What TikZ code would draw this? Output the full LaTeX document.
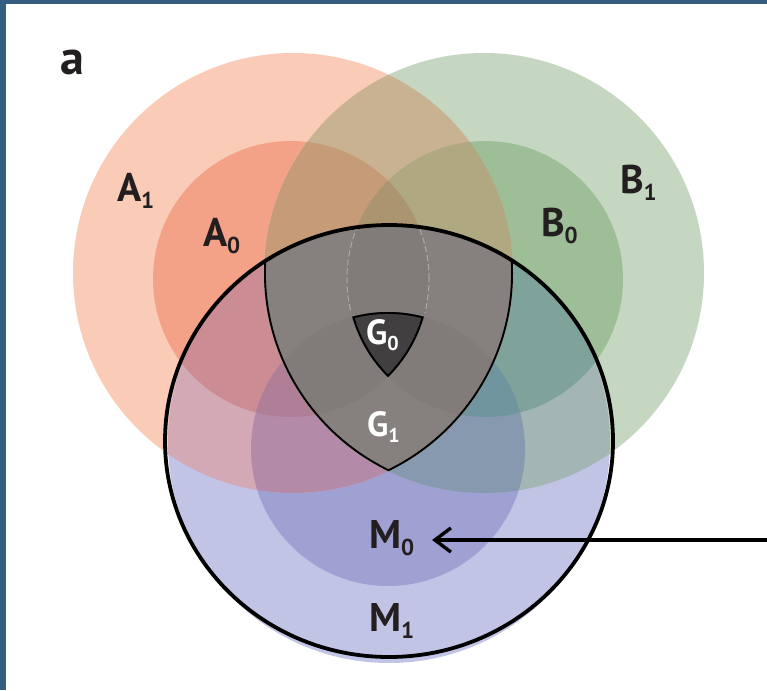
\documentclass[tikz,border=0pt]{standalone}
\usepackage{fontspec}
\setmainfont{PT Sans}
\usetikzlibrary{arrows.meta}
\definecolor{cAone}{HTML}{FACBB6}
\definecolor{cAzero}{HTML}{F4A287}
\definecolor{cBone}{HTML}{C5D7C0}
\definecolor{cBzero}{HTML}{9EBE98}
\definecolor{cMone}{HTML}{C2C4E5}
\definecolor{cMzero}{HTML}{9FA1D3}
\definecolor{AoBo}{HTML}{C9B291}
\definecolor{AzBo}{HTML}{C59B78}
\definecolor{AoBz}{HTML}{B0A880}
\definecolor{AzBz}{HTML}{AA9570}
\definecolor{AoMo}{HTML}{D4A9B6}
\definecolor{AzMo}{HTML}{CC8C93}
\definecolor{AoMz}{HTML}{B38BA9}
\definecolor{AzMz}{HTML}{AF7E97}
\definecolor{BoMo}{HTML}{A3B6B4}
\definecolor{BzMo}{HTML}{7FA39A}
\definecolor{BoMz}{HTML}{8699AE}
\definecolor{BzMz}{HTML}{71959F}
\definecolor{gfill}{HTML}{8B8683}
\definecolor{gdark}{HTML}{413F3F}
\definecolor{framecol}{HTML}{345D81}
\definecolor{ink}{HTML}{231F20}
\newcommand\lsub[1]{\raisebox{-7pt}{\fontsize{23}{23}\selectfont #1}}
\newcommand\gsub[1]{\raisebox{-6pt}{\fontsize{20}{20}\selectfont #1}}
% #1 clip path, #2 fill path, #3 colour
\newcommand\regionfill[3]{\begin{scope}\clip #1;\fill[#3] #2;\end{scope}}
\begin{document}
\begin{tikzpicture}[x=1pt,y=-1pt,
  lbl/.style={anchor=base west,inner sep=0pt,outer sep=0pt,text=ink,font=\bfseries\fontsize{40}{40}\selectfont},
  glbl/.style={anchor=base west,inner sep=0pt,outer sep=0pt,text=white,font=\bfseries\fontsize{35}{35}\selectfont},
  gedge/.style={draw=black,line width=3.8pt},
  pointer/.style={draw=black,line width=3.4pt,-{Straight Barb[length=16pt,width=24pt]}}]
\useasboundingbox (0,0) rectangle (767,690);
\fill[white] (0,0) rectangle (767,690);
\fill[framecol] (0,0) rectangle (6,690);
\fill[framecol] (0,0) rectangle (767,4);
\coordinate (cA) at (293,273);
\coordinate (cAi) at (291,279);
\coordinate (cB) at (484,273);
\coordinate (cBi) at (485,279);
\coordinate (cM) at (389,442);
\coordinate (cMi) at (388,449);
\coordinate (cE) at (389,441);
% single sets
\fill[cAone] (cA) circle[radius=220pt];
\fill[cAzero] (cAi) circle[radius=138pt];
\fill[cBone] (cB) circle[radius=220pt];
\fill[cBzero] (cBi) circle[radius=138pt];
\fill[cMone] (cM) circle[radius=221pt];
\fill[cMzero] (cMi) circle[radius=137pt];
% A with M
\regionfill{(cA) circle[radius=220pt]}{(cM) circle[radius=221pt]}{AoMo}
\regionfill{(cAi) circle[radius=138pt]}{(cM) circle[radius=221pt]}{AzMo}
\regionfill{(cA) circle[radius=220pt]}{(cMi) circle[radius=137pt]}{AoMz}
\regionfill{(cAi) circle[radius=138pt]}{(cMi) circle[radius=137pt]}{AzMz}
% B with M
\regionfill{(cB) circle[radius=220pt]}{(cM) circle[radius=221pt]}{BoMo}
\regionfill{(cBi) circle[radius=138pt]}{(cM) circle[radius=221pt]}{BzMo}
\regionfill{(cB) circle[radius=220pt]}{(cMi) circle[radius=137pt]}{BoMz}
\regionfill{(cBi) circle[radius=138pt]}{(cMi) circle[radius=137pt]}{BzMz}
% A with B
\regionfill{(cA) circle[radius=220pt]}{(cB) circle[radius=220pt]}{AoBo}
\regionfill{(cA) circle[radius=220pt]}{(cBi) circle[radius=138pt]}{AoBz}
\regionfill{(cAi) circle[radius=138pt]}{(cB) circle[radius=220pt]}{AzBo}
\regionfill{(cAi) circle[radius=138pt]}{(cBi) circle[radius=138pt]}{AzBz}
% G1 region
\begin{scope}
  \clip (cA) circle[radius=220pt];
  \clip (cB) circle[radius=220pt];
  \clip (cE) ellipse[x radius=224pt,y radius=216pt];
  \fill[gfill] (0,0) rectangle (767,690);
  \fill[black,fill opacity=0.035] (cAi) circle[radius=138pt];
  \fill[black,fill opacity=0.035] (cBi) circle[radius=138pt];
  \fill[black,fill opacity=0.035] (cMi) circle[radius=137pt];
  \begin{scope}
    \clip (0,0) rectangle (767,312);
    \draw[white,opacity=0.35,line width=1pt,dash pattern=on 6pt off 3pt] (cAi) circle[radius=138pt] (cBi) circle[radius=138pt];
  \end{scope}
  \draw[gedge] (cA) circle[radius=220pt] (cB) circle[radius=220pt];
\end{scope}
% G0 region
\begin{scope}
  \clip (cAi) circle[radius=138pt];
  \clip (cBi) circle[radius=138pt];
  \clip (cMi) circle[radius=137pt];
  \fill[gdark] (0,0) rectangle (767,690);
  \draw[gedge] (cAi) circle[radius=138pt] (cBi) circle[radius=138pt] (cMi) circle[radius=137pt];
\end{scope}
% M1 outline
\draw[line width=3.8pt] (cE) ellipse[x radius=224pt,y radius=216pt];
% labels
\node[anchor=base west,inner sep=0pt,text=ink,font=\bfseries\fontsize{48}{48}\selectfont] (panel) at (60,75) {a};
\node[lbl] (A1) at (117,201) {A\lsub{1}};
\node[lbl] (A0) at (203,246) {A\lsub{0}};
\node[lbl] (B1) at (620,193) {B\lsub{1}};
\node[lbl] (B0) at (541,236) {B\lsub{0}};
\node[glbl] (G0) at (366,344) {G\gsub{0}};
\node[glbl] (G1) at (367,436) {G\gsub{1}};
\node[lbl] (M0) at (369,548) {M\lsub{0}};
\node[lbl] (M1) at (369,631) {M\lsub{1}};
% arrow
\coordinate (arrowstart) at (767,540);
\draw[pointer,shorten >=18pt] (arrowstart) -- (M0.east |- arrowstart);
\end{tikzpicture}
\end{document}
